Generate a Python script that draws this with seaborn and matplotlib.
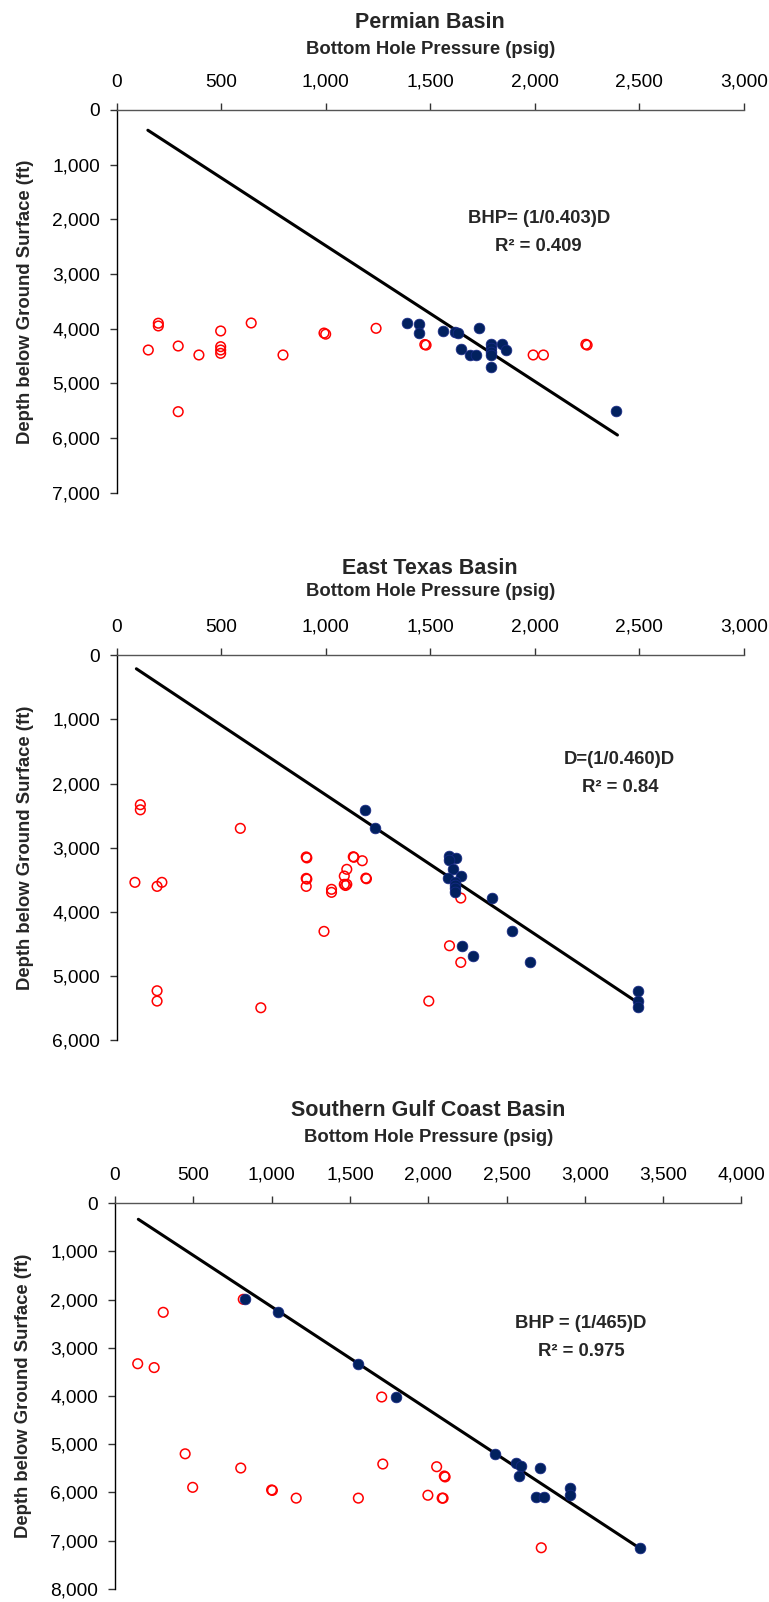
import matplotlib
matplotlib.use("Agg")
import matplotlib.pyplot as plt
import matplotlib.ticker as mticker
import seaborn as sns
import pandas as pd

sns.set_style("white")
plt.rcParams['font.family'] = ['Liberation Sans', 'DejaVu Sans']

# ---------------- data ----------------
# Permian Basin
perm_red_bhp = [200, 200, 152, 295, 394, 498, 498, 498, 498, 644, 796, 295, 992, 1000,
                1241, 1474, 1480, 1992, 2041, 2244, 2250]
perm_red_depth = [3900, 3950, 4390, 4317, 4481, 4042, 4329, 4390, 4451, 3896, 4481, 5518,
                  4080, 4100, 3993, 4290, 4300, 4481, 4481, 4286, 4300]
perm_blue_bhp = [1390, 1445, 1445, 1560, 1619, 1633, 1731, 1645, 1692, 1718, 1791, 1791,
                 1791, 1791, 1791, 1841, 1860, 2390]
perm_blue_depth = [3896, 3920, 4085, 4036, 4060, 4085, 3987, 4365, 4481, 4481, 4286, 4359,
                   4420, 4481, 4695, 4286, 4390, 5511]
perm_fit_bhp = [150, 2395]
perm_fit_depth = [370, 5945]

# East Texas Basin
etx_red_bhp = [114, 114, 88, 194, 217, 592, 907, 910, 907, 910, 907, 1132, 1135, 1175,
               1101, 1089, 1089, 1101, 1095, 1192, 1195, 1028, 1028, 992, 194, 194, 690,
               1493, 1646, 1592, 1646]
etx_red_depth = [2330, 2410, 3541, 3604, 3541, 2699, 3145, 3160, 3479, 3490, 3604, 3142,
                 3150, 3204, 3338, 3443, 3572, 3572, 3590, 3475, 3485, 3650, 3697, 4306,
                 5232, 5393, 5497, 5393, 3786, 4530, 4790]
etx_blue_bhp = [1190, 1235, 1590, 1621, 1590, 1609, 1586, 1648, 1618, 1618, 1618, 1618,
                1794, 1893, 1652, 1702, 1979, 2494, 2494, 2494]
etx_blue_depth = [2420, 2699, 3131, 3157, 3194, 3338, 3479, 3437, 3532, 3583, 3635, 3688,
                  3786, 4306, 4530, 4691, 4790, 5232, 5393, 5491]
etx_fit_bhp = [95, 2498]
etx_fit_depth = [210, 5430]

# Southern Gulf Coast Basin
sgc_red_bhp = [819, 308, 145, 250, 1703, 448, 803, 1710, 2054, 2103, 2108, 496, 1000, 1005,
               1157, 1554, 1998, 2089, 2095, 2722]
sgc_red_depth = [1993, 2263, 3330, 3410, 4021, 5200, 5495, 5412, 5468, 5661, 5680, 5896,
                 5950, 5960, 6120, 6120, 6060, 6120, 6120, 7150]
sgc_blue_bhp = [832, 1039, 1554, 1793, 2425, 2563, 2593, 2712, 2582, 2689, 2741, 2904,
                2904, 3354]
sgc_blue_depth = [1987, 2257, 3330, 4021, 5198, 5385, 5454, 5495, 5661, 6100, 6100, 5900,
                  6050, 7150]
sgc_fit_bhp = [149, 3360]
sgc_fit_depth = [332, 7180]

panels = [
    dict(title="Permian Basin", red=(perm_red_bhp, perm_red_depth),
         blue=(perm_blue_bhp, perm_blue_depth), fit=(perm_fit_bhp, perm_fit_depth),
         xmax=3000, xstep=500, ymax=7000,
         eq="BHP= (1/0.403)D", r2="R² = 0.409"),
    dict(title="East Texas Basin", red=(etx_red_bhp, etx_red_depth),
         blue=(etx_blue_bhp, etx_blue_depth), fit=(etx_fit_bhp, etx_fit_depth),
         xmax=3000, xstep=500, ymax=6000,
         eq="D=(1/0.460)D", r2="R² = 0.84"),
    dict(title="Southern Gulf Coast Basin", red=(sgc_red_bhp, sgc_red_depth),
         blue=(sgc_blue_bhp, sgc_blue_depth), fit=(sgc_fit_bhp, sgc_fit_depth),
         xmax=4000, xstep=500, ymax=8000,
         eq="BHP = (1/465)D", r2="R² = 0.975"),
]

# ---------------- layout (pixels) ----------------
W, H = 769, 1602
boxes = [  # left, right, top, bottom in px
    (116.5, 744.0, 110.0, 492.7),
    (116.5, 744.0, 655.3, 1040.0),
    (115.0, 741.4, 1203.3, 1588.7),
]
title_y = [22, 568, 1111]
xlabel_y = [49, 591, 1138]
text_pos = [(0.673, 0.68), (0.802, 0.693), (0.744, 0.651)]

BLUE = "#02215F"
RED = "#FF0000"
FS = 13.3

fig = plt.figure(figsize=(W / 100, H / 100), dpi=100)

for p, (l, r, t, b), ty, ly, tp in zip(panels, boxes, title_y, xlabel_y, text_pos):
    ax = fig.add_axes([l / W, 1 - b / H, (r - l) / W, (b - t) / H])
    red_df = pd.DataFrame({"bhp": p["red"][0], "depth": p["red"][1]})
    blue_df = pd.DataFrame({"bhp": p["blue"][0], "depth": p["blue"][1]})
    fit_df = pd.DataFrame({"bhp": p["fit"][0], "depth": p["fit"][1]})

    sns.lineplot(data=fit_df, x="bhp", y="depth", ax=ax, color="black", lw=2.2,
                 sort=False, estimator=None, zorder=2)
    sns.scatterplot(data=red_df, x="bhp", y="depth", ax=ax, s=48, marker="o",
                    facecolor="none", edgecolor=RED, linewidth=1.1, zorder=3)
    sns.scatterplot(data=blue_df, x="bhp", y="depth", ax=ax, s=60, marker="o",
                    color=BLUE, edgecolor="#1a2a8a", linewidth=0.5, zorder=4)

    ax.set_xlim(0, p["xmax"])
    ax.set_ylim(p["ymax"], 0)
    ax.xaxis.set_major_locator(mticker.MultipleLocator(p["xstep"]))
    ax.yaxis.set_major_locator(mticker.MultipleLocator(1000))
    fmt = mticker.FuncFormatter(lambda v, pos: f"{int(v):,}")
    ax.xaxis.set_major_formatter(fmt)
    ax.yaxis.set_major_formatter(fmt)
    ax.xaxis.tick_top()
    ax.tick_params(axis="both", which="major", direction="out", length=5, width=1,
                   color="#333333", labelsize=13.8, labelcolor="black",
                   top=True, bottom=False, left=True, right=False)
    ax.tick_params(axis="x", pad=9)
    ax.tick_params(axis="y", pad=7)
    for s in ("right", "bottom"):
        ax.spines[s].set_visible(False)
    ax.spines["top"].set_color("#555555")
    ax.spines["left"].set_color("black")
    ax.spines["top"].set_linewidth(1)
    ax.spines["left"].set_linewidth(1)
    ax.set_xlabel("")
    ax.set_ylabel("Depth below Ground Surface (ft)", fontsize=FS, fontweight="bold",
                  labelpad=13)
    ax.grid(False)

    ax.text(tp[0], tp[1], p["eq"] + "\n" + p["r2"], transform=ax.transAxes,
            ha="center", va="center", fontsize=FS, fontweight="bold",
            linespacing=1.85)

    cx = ((l + r) / 2) / W
    fig.text(cx, 1 - ty / H, p["title"], ha="center", va="center", fontsize=15.5,
             fontweight="bold")
    fig.text(cx, 1 - ly / H, "Bottom Hole Pressure (psig)", ha="center", va="center",
             fontsize=FS, fontweight="bold")

fig.savefig("out.png", dpi=100)
